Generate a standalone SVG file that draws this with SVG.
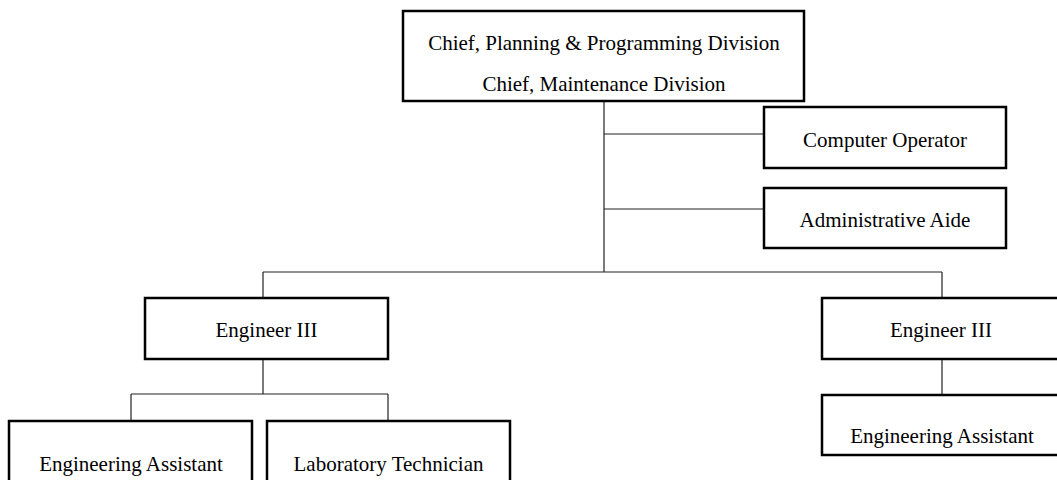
<svg xmlns="http://www.w3.org/2000/svg" width="1057" height="480" viewBox="0 0 1057 480">
  <style>
    .box { fill: #ffffff; stroke: #000000; stroke-width: 2.5; }
    .lbl { font-family: "Liberation Serif", "Times New Roman", serif; font-size: 21px; fill: #000000; text-anchor: middle; }
    .wire { stroke: #222222; stroke-width: 1.2; fill: none; }
  </style>
  <rect width="1057" height="480" fill="#ffffff"/>

  <!-- reporting lines -->
  <g id="connectors">
    <line class="wire" x1="604" y1="101" x2="604" y2="272"/>
    <line class="wire" x1="604" y1="134" x2="764" y2="134"/>
    <line class="wire" x1="604" y1="209" x2="764" y2="209"/>
    <line class="wire" x1="263" y1="272" x2="942" y2="272"/>
    <line class="wire" x1="263" y1="272" x2="263" y2="298"/>
    <line class="wire" x1="942" y1="272" x2="942" y2="298"/>
    <line class="wire" x1="263" y1="359" x2="263" y2="394"/>
    <line class="wire" x1="131" y1="394" x2="388" y2="394"/>
    <line class="wire" x1="131" y1="394" x2="131" y2="421"/>
    <line class="wire" x1="388" y1="394" x2="388" y2="421"/>
    <line class="wire" x1="942" y1="359" x2="942" y2="395"/>
  </g>

  <g id="chief">
    <rect class="box" x="403" y="11" width="401" height="90"/>
    <text class="lbl" x="604" y="50">Chief, Planning &amp; Programming Division</text>
    <text class="lbl" x="604" y="91">Chief, Maintenance Division</text>
  </g>

  <g id="computer-operator">
    <rect class="box" x="764" y="107" width="242" height="61"/>
    <text class="lbl" x="885" y="147">Computer Operator</text>
  </g>

  <g id="administrative-aide">
    <rect class="box" x="764" y="188" width="242" height="60"/>
    <text class="lbl" x="885" y="227">Administrative Aide</text>
  </g>

  <g id="engineer-left">
    <rect class="box" x="145" y="298" width="243" height="61"/>
    <text class="lbl" x="266.5" y="337">Engineer III</text>
  </g>

  <g id="engineer-right">
    <rect class="box" x="822" y="298" width="240" height="61"/>
    <text class="lbl" x="941" y="337">Engineer III</text>
  </g>

  <g id="eng-assistant-left">
    <rect class="box" x="9" y="421" width="243" height="70"/>
    <text class="lbl" x="131" y="471">Engineering Assistant</text>
  </g>

  <g id="lab-technician">
    <rect class="box" x="267" y="421" width="243" height="70"/>
    <text class="lbl" x="388.5" y="471">Laboratory Technician</text>
  </g>

  <g id="eng-assistant-right">
    <rect class="box" x="822" y="395" width="240" height="60"/>
    <text class="lbl" x="942" y="443">Engineering Assistant</text>
  </g>
</svg>
